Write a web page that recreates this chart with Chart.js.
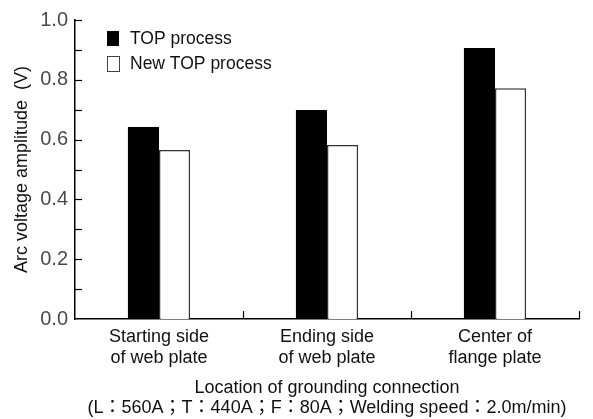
<!DOCTYPE html>
<html>
<head>
<meta charset="utf-8">
<script src="https://cdn.jsdelivr.net/npm/chart.js@4.4.1/dist/chart.umd.min.js"></script>
<style>
  html, body { margin: 0; padding: 0; background: #fff; }
  #wrap { width: 593px; height: 419px; position: relative; }
</style>
</head>
<body>
<div id="wrap"><canvas id="c"></canvas></div>
<script>
// Grounding connection locations (two-line category labels)
const categories = [
  ['Starting side', 'of web plate'],
  ['Ending side', 'of web plate'],
  ['Center of', 'flange plate']
];
const seriesNames = ['TOP process', 'New TOP process'];
// Arc voltage amplitude (V)
const topProcess = [0.642, 0.699, 0.906];
const newTopProcess = [0.565, 0.582, 0.772];
const yTickValues = [0.0, 0.2, 0.4, 0.6, 0.8, 1.0];
const xTitle = ['Location of grounding connection', '(L：560A；T：440A；F：80A；Welding speed：2.0m/min)'];
const yTitle = 'Arc voltage amplitude  (V)';

const FONT = '"Liberation Sans", Arial, "Noto Sans CJK KR", sans-serif';

// Inward tick marks: minor/major on y, category boundaries on x
const inwardTicks = {
  id: 'inwardTicks',
  afterDatasetsDraw(chart) {
    const { ctx, chartArea: a, scales: { x, y } } = chart;
    ctx.save();
    ctx.strokeStyle = '#000';
    ctx.lineWidth = 1.2;
    for (let v = 0.1; v <= 1.0001; v += 0.1) {
      const py = Math.round(y.getPixelForValue(v)) + 0.5;
      ctx.beginPath();
      ctx.moveTo(a.left, py);
      ctx.lineTo(a.left + 7, py);
      ctx.stroke();
    }
    const n = chart.data.labels.length;
    const step = x.getPixelForValue(1) - x.getPixelForValue(0);
    for (let i = 0; i < n; i++) {
      const px = Math.round(x.getPixelForValue(i) + step / 2) + 0.5;
      ctx.beginPath();
      ctx.moveTo(px, a.bottom);
      ctx.lineTo(px, a.bottom - 8);
      ctx.stroke();
    }
    ctx.restore();
  }
};

// Legend drawn inside the plot area, top-left
const innerLegend = {
  id: 'innerLegend',
  afterDraw(chart) {
    const { ctx, chartArea: a } = chart;
    ctx.save();
    ctx.font = '17.5px ' + FONT;
    ctx.textBaseline = 'middle';
    chart.data.datasets.forEach((ds, i) => {
      const bx = a.left + 32, by = a.top + 11 + i * 25;
      ctx.fillStyle = ds.backgroundColor;
      ctx.fillRect(bx, by, 12, 15);
      if (ds.borderWidth) {
        ctx.strokeStyle = '#444';
        ctx.lineWidth = 1;
        ctx.strokeRect(bx + 0.5, by + 0.5, 12, 15);
      }
      ctx.fillStyle = '#111';
      ctx.fillText(ds.label, bx + 23, by + 8);
    });
    ctx.restore();
  }
};

new Chart(document.getElementById('c'), {
  type: 'bar',
  data: {
    labels: categories,
    datasets: [
      { label: seriesNames[0], data: topProcess, backgroundColor: '#000', borderWidth: 0 },
      { label: seriesNames[1], data: newTopProcess, backgroundColor: '#fff', borderColor: '#333', borderWidth: 1.5, borderSkipped: 'bottom' }
    ]
  },
  options: {
    responsive: true,
    maintainAspectRatio: false,
    animation: false,
    datasets: { bar: { categoryPercentage: 0.37, barPercentage: 1.0 } },
    layout: { padding: { left: 0, right: 14, top: 20, bottom: 0 } },
    plugins: { legend: { display: false }, tooltip: { enabled: false } },
    scales: {
      x: {
        grid: { display: false, drawTicks: false },
        border: { color: '#000', width: 1.5 },
        ticks: { color: '#111', font: { family: FONT, size: 18, lineHeight: 1.2 }, padding: 7, maxRotation: 0 },
        title: {
          display: true,
          text: xTitle,
          color: '#111',
          font: { family: FONT, size: 18, lineHeight: 1.1 },
          padding: { top: 4, bottom: 1 }
        },
        afterFit(s) { s.height = 100; }
      },
      y: {
        min: 0, max: 1,
        grid: { display: false, drawTicks: false },
        border: { color: '#000', width: 1.5 },
        afterBuildTicks(s) { s.ticks = yTickValues.map(v => ({ value: v })); },
        ticks: {
          color: '#4a4a4a',
          font: { family: FONT, size: 20 },
          padding: 7,
          callback: v => Number(v).toFixed(1)
        },
        title: {
          display: true,
          text: yTitle,
          color: '#111',
          font: { family: FONT, size: 18 },
          padding: { top: 11, bottom: 4 }
        },
        afterFit(s) { s.width = 75; }
      }
    }
  },
  plugins: [inwardTicks, innerLegend]
});
</script>
</body>
</html>
